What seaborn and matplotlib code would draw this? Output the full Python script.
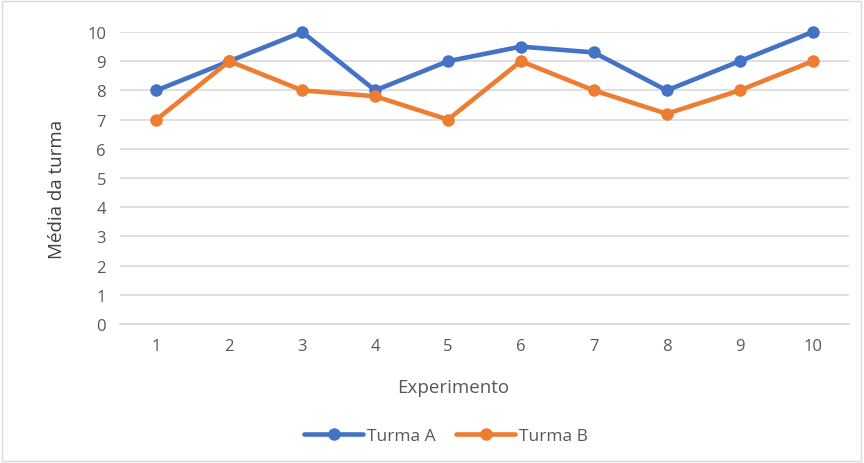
import pandas as pd
import matplotlib
matplotlib.use('Agg')
import matplotlib.pyplot as plt
import seaborn as sns
from matplotlib.patches import Rectangle

experimentos = [1, 2, 3, 4, 5, 6, 7, 8, 9, 10]
turma_a = [8, 9, 10, 8, 9, 9.5, 9.3, 8, 9, 10]
turma_b = [7, 9, 8, 7.8, 7, 9, 8, 7.2, 8, 9]

sns.set_style('white')
plt.rcParams['font.family'] = ['Open Sans', 'DejaVu Sans']

df = pd.DataFrame({
    'Experimento': experimentos * 2,
    'Média': turma_a + turma_b,
    'Turma': ['Turma A'] * len(turma_a) + ['Turma B'] * len(turma_b),
})

fig = plt.figure(figsize=(8.64, 4.64), dpi=100)
ax = fig.add_axes([120 / 864, 1 - 325 / 464, 729 / 864, 292 / 464])

sns.lineplot(data=df, x='Experimento', y='Média', hue='Turma',
             palette=['#4472C4', '#ED7D31'], marker='o', markersize=9,
             markeredgewidth=0, linewidth=3.3, ax=ax, clip_on=False, zorder=3)

ax.set_xlim(0.5, 10.5)
ax.set_ylim(0, 10)
ax.set_xticks(experimentos)
ax.set_yticks(range(0, 11))
ax.grid(axis='y', color='#d9d9d9', linewidth=1.2)
for s in ['top', 'right', 'left']:
    ax.spines[s].set_visible(False)
ax.spines['bottom'].set_color('#d9d9d9')
ax.spines['bottom'].set_linewidth(1.2)
ax.tick_params(length=0, labelsize=12, labelcolor='#595959', pad=10)
ax.set_xlabel('Experimento', fontsize=13.5, color='#595959', va='center')
ax.set_ylabel('Média da turma', fontsize=13.5, color='#404040', va='center', ha='center')
ax.xaxis.set_label_coords((453 - 120) / 729, (325 - 388) / 292)
ax.yaxis.set_label_coords((57 - 120) / 729, (325 - 189) / 292)

handles, labels = ax.get_legend_handles_labels()
ax.legend(handles, labels, loc='center', bbox_to_anchor=(446 / 864, 1 - 437 / 464),
          bbox_transform=fig.transFigure, ncol=2, frameon=False, fontsize=12.5,
          labelcolor='#595959', handlelength=3.4, columnspacing=1.2, handletextpad=0.2)

fig.patches.append(Rectangle((0.002, 0.004), 0.994, 0.992, transform=fig.transFigure,
                             fill=False, edgecolor='#d9d9d9', linewidth=1))

fig.savefig('out.png', dpi=100)
